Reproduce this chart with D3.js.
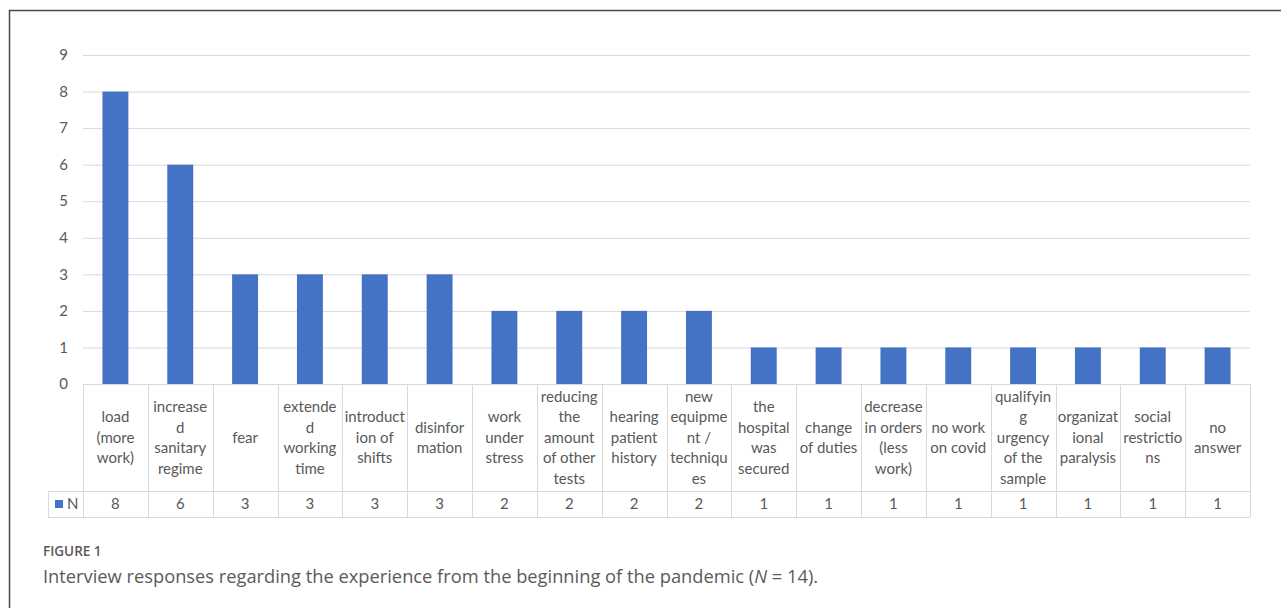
<!DOCTYPE html>
<meta charset="utf-8">
<html>
  <head>
    <title>Figure 1</title>
    <script src="https://d3js.org/d3.v7.min.js"></script>
    <style>
      body {
        margin: 0;
        background: #fff;
      }
      .tick-label, .cat-label, .val-label {
        font-family: Lato, "Open Sans", sans-serif;
        fill: #595959;
      }
      .caption {
        font-family: "Open Sans", Lato, sans-serif;
        fill: #5a5a5a;
      }
    </style>
  </head>
  <body>
    <svg id="chart" width="1281" height="608"></svg>

    <script>
      // categories, one entry per line as printed under each bar
      const categories = [
        ["load", "(more", "work)"],
        ["increase", "d", "sanitary", "regime"],
        ["fear"],
        ["extende", "d", "working", "time"],
        ["introduct", "ion of", "shifts"],
        ["disinfor", "mation"],
        ["work", "under", "stress"],
        ["reducing", "the", "amount", "of other", "tests"],
        ["hearing", "patient", "history"],
        ["new", "equipme", "nt /", "techniqu", "es"],
        ["the", "hospital", "was", "secured"],
        ["change", "of duties"],
        ["decrease", "in orders", "(less", "work)"],
        ["no work", "on covid"],
        ["qualifyin", "g", "urgency", "of the", "sample"],
        ["organizat", "ional", "paralysis"],
        ["social", "restrictio", "ns"],
        ["no", "answer"]
      ];
      const values = [8, 6, 3, 3, 3, 3, 2, 2, 2, 2, 1, 1, 1, 1, 1, 1, 1, 1];
      const yTicks = [0, 1, 2, 3, 4, 5, 6, 7, 8, 9];
      const seriesName = "N";

      const svg = d3.select("#chart");
      const barColor = "#4472c4";
      const gridColor = "#d9d9d9";

      // frame of the figure box
      svg.append("path")
         .attr("d", "M9.5,608 L9.5,10.5 L1281,10.5")
         .attr("fill", "none")
         .attr("stroke", "#4a4a4a")
         .attr("stroke-width", 1.5);

      const left = 83, right = 1250;
      const tableTop = 384, catBottom = 491, tableBottom = 517;
      const legendLeft = 48;

      const x = d3.scaleBand()
                  .domain(d3.range(values.length))
                  .range([left, right])
                  .padding(0);

      const y = d3.scaleLinear()
                  .domain([0, 9])
                  .range([tableTop, 55]);

      // gridlines
      svg.append("g")
         .selectAll("line")
         .data(yTicks.filter(d => d > 0))
         .enter()
         .append("line")
           .attr("x1", left)
           .attr("x2", right)
           .attr("y1", d => y(d) + 0.5)
           .attr("y2", d => y(d) + 0.5)
           .attr("stroke", gridColor)
           .attr("stroke-width", 1);

      // y tick labels
      svg.append("g")
         .selectAll("text")
         .data(yTicks)
         .enter()
         .append("text")
           .attr("class", "tick-label")
           .attr("x", 68)
           .attr("y", d => y(d))
           .attr("dy", "0.35em")
           .attr("text-anchor", "end")
           .attr("font-size", 15)
           .text(d => d);

      // bars
      const bw = x.bandwidth();
      svg.append("g")
         .selectAll("rect")
         .data(values)
         .enter()
         .append("rect")
           .attr("x", (d, i) => x(i) + bw * 0.3)
           .attr("width", bw * 0.4)
           .attr("y", d => y(d))
           .attr("height", d => y(0) - y(d))
           .attr("fill", barColor);

      // data table
      const table = svg.append("g")
                       .attr("stroke", gridColor)
                       .attr("stroke-width", 1)
                       .attr("fill", "none");

      table.append("line")
           .attr("x1", left).attr("x2", right)
           .attr("y1", tableTop + 0.5).attr("y2", tableTop + 0.5);
      table.append("line")
           .attr("x1", legendLeft).attr("x2", right)
           .attr("y1", catBottom + 0.5).attr("y2", catBottom + 0.5);
      table.append("line")
           .attr("x1", legendLeft).attr("x2", right)
           .attr("y1", tableBottom + 0.5).attr("y2", tableBottom + 0.5);
      table.append("line")
           .attr("x1", legendLeft + 0.5).attr("x2", legendLeft + 0.5)
           .attr("y1", catBottom).attr("y2", tableBottom);

      table.selectAll("line.col")
           .data(d3.range(values.length + 1))
           .enter()
           .append("line")
             .attr("class", "col")
             .attr("x1", i => Math.round(left + i * bw) + 0.5)
             .attr("x2", i => Math.round(left + i * bw) + 0.5)
             .attr("y1", tableTop)
             .attr("y2", tableBottom);

      // category labels
      const lineH = 20.5;
      const catMid = (tableTop + catBottom) / 2;
      svg.append("g")
         .selectAll("text")
         .data(categories)
         .enter()
         .append("text")
           .attr("class", "cat-label")
           .attr("text-anchor", "middle")
           .attr("font-size", 15)
           .each(function(lines, i) {
             const t = d3.select(this);
             const y0 = catMid - (lines.length - 1) * lineH / 2;
             lines.forEach((ln, k) => {
               t.append("tspan")
                .attr("x", x(i) + bw / 2)
                .attr("y", y0 + k * lineH)
                .attr("dy", "0.35em")
                .text(ln);
             });
           });

      // value row
      const valMid = (catBottom + tableBottom) / 2;
      svg.append("g")
         .selectAll("text")
         .data(values)
         .enter()
         .append("text")
           .attr("class", "val-label")
           .attr("x", (d, i) => x(i) + bw / 2)
           .attr("y", valMid)
           .attr("dy", "0.35em")
           .attr("text-anchor", "middle")
           .attr("font-size", 15)
           .text(d => d);

      // legend key in the table
      svg.append("rect")
         .attr("x", 55)
         .attr("y", valMid - 4)
         .attr("width", 8)
         .attr("height", 8)
         .attr("fill", barColor);
      svg.append("text")
         .attr("class", "val-label")
         .attr("x", 67)
         .attr("y", valMid)
         .attr("dy", "0.35em")
         .attr("font-size", 15)
         .text(seriesName);

      // caption
      svg.append("text")
         .attr("class", "caption")
         .attr("x", 43)
         .attr("y", 556)
         .attr("font-size", 13.5)
         .attr("font-weight", 600)
         .text("FIGURE 1");

      const cap = svg.append("text")
                     .attr("class", "caption")
                     .attr("x", 43)
                     .attr("y", 583)
                     .attr("font-size", 18.3);
      cap.append("tspan").text("Interview responses regarding the experience from the beginning of the pandemic (");
      cap.append("tspan").attr("font-style", "italic").text("N");
      cap.append("tspan").text(" = 14).");
    </script>
  </body>
</html>
